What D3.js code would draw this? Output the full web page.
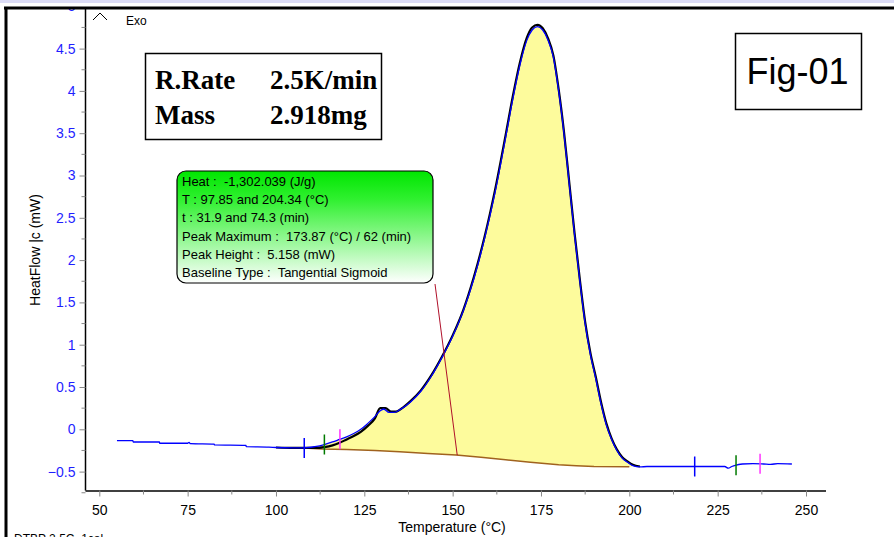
<!DOCTYPE html>
<html>
<head>
<meta charset="utf-8">
<script src="https://cdn.jsdelivr.net/npm/d3@7"></script>
<style>
  body { margin: 0; background: #fff; }
  svg { display: block; font-family: Arial, "Liberation Sans", sans-serif; }
</style>
</head>
<body>
<div id="chart"></div>
<script>
// measured DSC signal (blue)
const temps = [55, 59.5, 59.6, 67, 67.1, 75, 75.4, 75.8, 82.5, 82.6, 91.5, 91.6, 98, 100, 105, 108, 111, 113.7, 116, 118, 120, 122, 124, 126, 128, 129.5, 130.5, 132, 133.5, 135, 138, 141, 144, 147, 150, 153, 156, 159, 162, 165, 167, 169, 171, 172.5, 174, 175.5, 177, 178.5, 180, 181.5, 183, 184.5, 186, 187.5, 189, 190.5, 192, 193.5, 195, 196.5, 198, 199.5, 201, 203, 205, 210, 218.5, 225, 227, 228, 229, 230, 232, 235, 238, 240, 242, 246];
const heatFlow = [-0.135, -0.135, -0.15, -0.15, -0.165, -0.165, -0.155, -0.17, -0.175, -0.185, -0.19, -0.205, -0.21, -0.215, -0.22, -0.22, -0.205, -0.18, -0.15, -0.12, -0.09, -0.05, 0.0, 0.07, 0.15, 0.22, 0.24, 0.2, 0.2, 0.23, 0.32, 0.45, 0.63, 0.85, 1.1, 1.4, 1.78, 2.25, 2.8, 3.45, 3.9, 4.3, 4.6, 4.72, 4.76, 4.72, 4.6, 4.4, 4.0, 3.5, 2.9, 2.3, 1.75, 1.25, 0.88, 0.6, 0.3, 0.05, -0.12, -0.25, -0.34, -0.39, -0.43, -0.445, -0.44, -0.44, -0.44, -0.44, -0.44, -0.46, -0.44, -0.425, -0.41, -0.405, -0.41, -0.415, -0.405, -0.41];

// fitted curve (black)
const fitTemps = [100, 105, 108, 111, 113.7, 116, 118, 120, 122, 124, 126, 128, 129.5, 131, 132.5, 134, 136, 138, 141, 144, 147, 150, 153, 156, 159, 162, 165, 167, 169, 171, 172.5, 174, 175.5, 177, 178.5, 180, 181.5, 183, 184.5, 186, 187.5, 189, 190.5, 192, 193.5, 195, 196.5, 198, 199.5, 201, 203];
const fitFlow = [-0.215, -0.22, -0.22, -0.22, -0.21, -0.19, -0.16, -0.12, -0.08, -0.03, 0.04, 0.13, 0.25, 0.25, 0.21, 0.21, 0.26, 0.33, 0.46, 0.64, 0.86, 1.11, 1.41, 1.8, 2.27, 2.83, 3.48, 3.93, 4.33, 4.63, 4.75, 4.78, 4.74, 4.62, 4.42, 4.02, 3.52, 2.92, 2.32, 1.77, 1.27, 0.9, 0.62, 0.32, 0.07, -0.11, -0.24, -0.33, -0.38, -0.42, -0.44];

// tangential sigmoid baseline (brown)
const baseTemps = [108, 113, 120, 128, 135, 143, 151, 158, 165, 172, 180, 185, 190, 200];
const baseFlow = [-0.22, -0.232, -0.238, -0.25, -0.265, -0.285, -0.305, -0.33, -0.36, -0.39, -0.42, -0.432, -0.44, -0.442];

// limit markers: temperature and colour
const markerTemps = [108, 113.7, 118.1, 218.5, 230.2, 237];
const markerColors = ['#0000ff', '#007a00', '#ff33ff', '#0000ff', '#007a00', '#ff33ff'];

const xTicks = [50, 75, 100, 125, 150, 175, 200, 225, 250];
const yTicks = [-0.5, 0, 0.5, 1, 1.5, 2, 2.5, 3, 3.5, 4, 4.5, 5];

const infoLines = [
  'Heat :  -1,302.039 (J/g)',
  'T : 97.85 and 204.34 (°C)',
  't : 31.9 and 74.3 (min)',
  'Peak Maximum :  173.87 (°C) / 62 (min)',
  'Peak Height :  5.158 (mW)',
  'Baseline Type :  Tangential Sigmoid'
];

const W = 894, H = 537;
const svg = d3.select('#chart').append('svg')
  .attr('width', W)
  .attr('height', H);
const defs = svg.append('defs');

svg.append('rect').attr('width', W).attr('height', H).attr('fill', '#fff');

const x = d3.scaleLinear().domain([50, 250]).range([99.3, 806]);
const y = d3.scaleLinear().domain([0, 5]).range([429.3, 6.3]);

const axisLeftX = 85.5, axisBottomY = 490.5;

// clip so nothing goes above the frame
defs.append('clipPath').attr('id', 'clip')
  .append('rect').attr('x', axisLeftX).attr('y', 9.5).attr('width', 806).attr('height', axisBottomY - 9.5);

const plot = svg.append('g').attr('clip-path', 'url(#clip)');

// yellow peak area
const baseAt = d3.scaleLinear().domain(baseTemps).range(baseFlow).clamp(true);
const fillPts = temps.map((t, i) => ({ t, v: heatFlow[i] }))
  .filter(d => d.t >= 111 && d.t <= 201);
fillPts.unshift({ t: 111, v: baseAt(111) });
fillPts.push({ t: 200.5, v: baseAt(200.5) });

plot.append('path')
  .datum(fillPts)
  .attr('fill', '#fdfb9c')
  .attr('d', d3.area()
    .x(d => x(d.t))
    .y0(d => y(baseAt(d.t)))
    .y1(d => y(Math.max(d.v, baseAt(d.t)))));

// baseline
plot.append('path')
  .datum(baseTemps.map((t, i) => [t, baseFlow[i]]))
  .attr('fill', 'none')
  .attr('stroke', '#a0621e')
  .attr('stroke-width', 1.5)
  .attr('d', d3.line().x(d => x(d[0])).y(d => y(d[1])));

// fitted (black)
plot.append('path')
  .datum(fitTemps.map((t, i) => [t, fitFlow[i]]))
  .attr('fill', 'none')
  .attr('stroke', '#000')
  .attr('stroke-width', 2.2)
  .attr('d', d3.line().x(d => x(d[0])).y(d => y(d[1])).curve(d3.curveMonotoneX));

// measured (blue)
plot.append('path')
  .datum(temps.map((t, i) => [t, heatFlow[i]]))
  .attr('fill', 'none')
  .attr('stroke', '#0000ff')
  .attr('stroke-width', 1.3)
  .attr('d', d3.line().x(d => x(d[0])).y(d => y(d[1])).curve(d3.curveMonotoneX));

// limit markers
const valAt = d3.scaleLinear().domain(temps).range(heatFlow);
plot.selectAll('line.marker')
  .data(markerTemps)
  .join('line')
  .attr('class', 'marker')
  .attr('x1', d => x(d)).attr('x2', d => x(d))
  .attr('y1', d => y(valAt(d)) - 10)
  .attr('y2', d => y(valAt(d)) + 10)
  .attr('stroke', (d, i) => markerColors[i])
  .attr('stroke-width', 1.5);

// leader line from the info box
svg.append('line')
  .attr('x1', 435).attr('y1', 284)
  .attr('x2', x(151.3)).attr('y2', y(baseAt(151.3)))
  .attr('stroke', '#b0102a').attr('stroke-width', 1);

// axes
const xAxis = d3.axisBottom(x).tickValues(xTicks).tickSize(6).tickSizeOuter(0);
const xg = svg.append('g').attr('transform', `translate(0,${axisBottomY})`).call(xAxis);
xg.select('.domain').attr('d', `M${axisLeftX},0.5H826`).attr('stroke', '#000').attr('stroke-width', 1.5);
xg.selectAll('.tick line').attr('stroke', '#888');
xg.selectAll('.tick text').attr('font-size', 14).attr('fill', '#000').attr('dy', '1.1em');
xg.selectAll('line.minor')
  .data(d3.range(62.5, 250, 25))
  .join('line')
  .attr('class', 'minor')
  .attr('x1', d => x(d)).attr('x2', d => x(d))
  .attr('y1', 0).attr('y2', 4)
  .attr('stroke', '#888');

const yAxis = d3.axisLeft(y).tickValues(yTicks).tickSize(6).tickSizeOuter(0)
  .tickFormat(d3.format('~g'));
const yg = svg.append('g').attr('transform', `translate(${axisLeftX},0)`).call(yAxis);
yg.select('.domain').attr('d', `M0,9V${axisBottomY}`).attr('stroke', '#000').attr('stroke-width', 1.5);
yg.selectAll('.tick line').attr('stroke', '#888');
yg.selectAll('.tick text').attr('font-size', 14).attr('fill', '#1f1fff').attr('x', -10);
yg.selectAll('line.minor')
  .data(d3.range(-0.75, 5, 0.5))
  .join('line')
  .attr('class', 'minor')
  .attr('y1', d => y(d)).attr('y2', d => y(d))
  .attr('x1', 0).attr('x2', -4)
  .attr('stroke', '#888');

// window chrome (covers the top of the "5" label like the original)
svg.append('rect').attr('x', 0).attr('y', 0).attr('width', W).attr('height', 7).attr('fill', '#fff');
svg.append('rect').attr('x', 0).attr('y', 0).attr('width', W).attr('height', 3).attr('fill', '#dcdcf6');
svg.append('line').attr('x1', 4).attr('x2', W).attr('y1', 8).attr('y2', 8)
  .attr('stroke', '#000').attr('stroke-width', 3);
svg.append('line').attr('x1', 6).attr('x2', 6).attr('y1', 7).attr('y2', H)
  .attr('stroke', '#000').attr('stroke-width', 3);

svg.append('text')
  .attr('x', 452).attr('y', 532)
  .attr('text-anchor', 'middle')
  .attr('font-size', 14)
  .text('Temperature (°C)');

svg.append('text')
  .attr('transform', 'translate(40,250) rotate(-90)')
  .attr('text-anchor', 'middle')
  .attr('font-size', 14)
  .text('HeatFlow |c (mW)');

svg.append('text')
  .attr('x', 14).attr('y', 543)
  .attr('font-size', 12)
  .text('DTBP 2.5C_1cal');

// Exo marker
svg.append('path')
  .attr('d', 'M93,20L100,13L107,20')
  .attr('fill', 'none').attr('stroke', '#000').attr('stroke-width', 1);
svg.append('text').attr('x', 126).attr('y', 25).attr('font-size', 12).text('Exo');

// rate / mass box
svg.append('rect')
  .attr('x', 145.5).attr('y', 53.5).attr('width', 236).attr('height', 86)
  .attr('fill', '#fff').attr('stroke', '#000').attr('stroke-width', 1.5);
const serif = '"Times New Roman", "Liberation Serif", serif';
[['R.Rate', '2.5K/min', 89], ['Mass', '2.918mg', 124]].forEach(r => {
  svg.append('text').attr('x', 155).attr('y', r[2])
    .attr('font-family', serif).attr('font-weight', 'bold').attr('font-size', 27).text(r[0]);
  svg.append('text').attr('x', 270).attr('y', r[2])
    .attr('font-family', serif).attr('font-weight', 'bold').attr('font-size', 27).text(r[1]);
});

// Fig-01 box
svg.append('rect')
  .attr('x', 735.5).attr('y', 33.5).attr('width', 126).attr('height', 76)
  .attr('fill', '#fff').attr('stroke', '#000').attr('stroke-width', 1.5);
svg.append('text').attr('x', 797.5).attr('y', 84)
  .attr('text-anchor', 'middle').attr('font-size', 36).text('Fig-01');

// info box
const grad = defs.append('linearGradient')
  .attr('id', 'green').attr('x1', 0).attr('x2', 0).attr('y1', 0).attr('y2', 1);
grad.append('stop').attr('offset', '0%').attr('stop-color', '#00e600');
grad.append('stop').attr('offset', '25%').attr('stop-color', '#2ff02f');
grad.append('stop').attr('offset', '100%').attr('stop-color', '#ffffff');
svg.append('rect')
  .attr('x', 177).attr('y', 171).attr('width', 256).attr('height', 112)
  .attr('rx', 9).attr('ry', 9)
  .attr('fill', 'url(#green)').attr('stroke', '#000').attr('stroke-width', 1.2);
svg.selectAll('text.info')
  .data(infoLines)
  .join('text')
  .attr('class', 'info')
  .attr('x', 182)
  .attr('y', (d, i) => 186 + i * 18.2)
  .attr('font-size', 13)
  .style('white-space', 'pre')
  .text(d => d);
</script>
</body>
</html>
